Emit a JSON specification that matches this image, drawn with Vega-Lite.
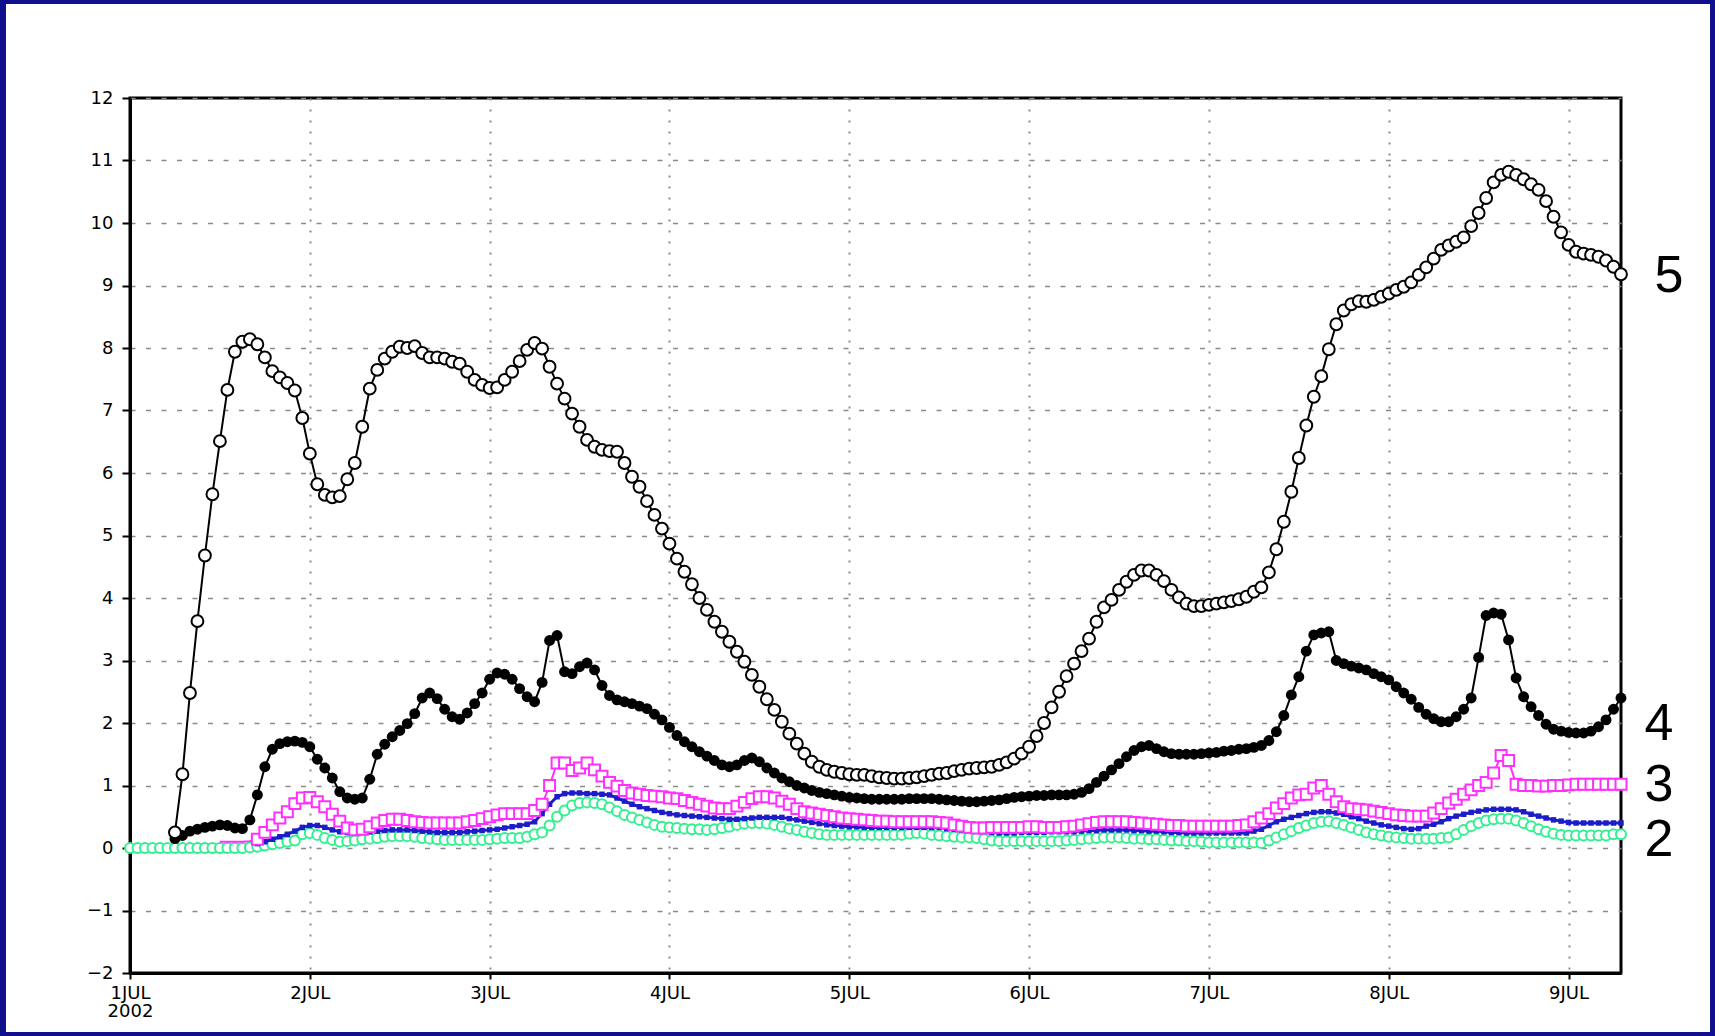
{
"$schema":"https://vega.github.io/schema/vega-lite/v6.json",
"width":1491,"height":875,
"autosize":{"type":"none"},
"padding":{"left":130,"top":98,"right":94,"bottom":63},
"background":"white",
"config":{"view":{"stroke":"black","strokeWidth":3}},
"datasets":{
"s5":[{"h":6,"v":0.25},{"h":7,"v":1.18},{"h":8,"v":2.48},{"h":9,"v":3.63},{"h":10,"v":4.68},{"h":11,"v":5.66},{"h":12,"v":6.51},{"h":13,"v":7.33},{"h":14,"v":7.94},{"h":15,"v":8.10},{"h":16,"v":8.14},{"h":17,"v":8.06},{"h":18,"v":7.85},{"h":19,"v":7.63},{"h":20,"v":7.53},{"h":21,"v":7.44},{"h":22,"v":7.32},{"h":23,"v":6.88},{"h":24,"v":6.31},{"h":25,"v":5.82},{"h":26,"v":5.65},{"h":27,"v":5.61},{"h":28,"v":5.63},{"h":29,"v":5.90},{"h":30,"v":6.16},{"h":31,"v":6.74},{"h":32,"v":7.35},{"h":33,"v":7.65},{"h":34,"v":7.83},{"h":35,"v":7.94},{"h":36,"v":8.02},{"h":37,"v":8.00},{"h":38,"v":8.03},{"h":39,"v":7.92},{"h":40,"v":7.85},{"h":41,"v":7.85},{"h":42,"v":7.83},{"h":43,"v":7.78},{"h":44,"v":7.75},{"h":45,"v":7.62},{"h":46,"v":7.49},{"h":47,"v":7.41},{"h":48,"v":7.36},{"h":49,"v":7.37},{"h":50,"v":7.49},{"h":51,"v":7.62},{"h":52,"v":7.79},{"h":53,"v":7.97},{"h":54,"v":8.08},{"h":55,"v":7.99},{"h":56,"v":7.70},{"h":57,"v":7.43},{"h":58,"v":7.19},{"h":59,"v":6.95},{"h":60,"v":6.74},{"h":61,"v":6.53},{"h":62,"v":6.42},{"h":63,"v":6.37},{"h":64,"v":6.35},{"h":65,"v":6.34},{"h":66,"v":6.16},{"h":67,"v":5.94},{"h":68,"v":5.78},{"h":69,"v":5.55},{"h":70,"v":5.33},{"h":71,"v":5.11},{"h":72,"v":4.87},{"h":73,"v":4.63},{"h":74,"v":4.42},{"h":75,"v":4.22},{"h":76,"v":4.00},{"h":77,"v":3.81},{"h":78,"v":3.62},{"h":79,"v":3.46},{"h":80,"v":3.30},{"h":81,"v":3.14},{"h":82,"v":2.98},{"h":83,"v":2.77},{"h":84,"v":2.58},{"h":85,"v":2.38},{"h":86,"v":2.21},{"h":87,"v":2.02},{"h":88,"v":1.83},{"h":89,"v":1.67},{"h":90,"v":1.51},{"h":91,"v":1.38},{"h":92,"v":1.30},{"h":93,"v":1.25},{"h":94,"v":1.22},{"h":95,"v":1.20},{"h":96,"v":1.18},{"h":97,"v":1.17},{"h":98,"v":1.17},{"h":99,"v":1.15},{"h":100,"v":1.13},{"h":101,"v":1.12},{"h":102,"v":1.11},{"h":103,"v":1.11},{"h":104,"v":1.12},{"h":105,"v":1.13},{"h":106,"v":1.15},{"h":107,"v":1.17},{"h":108,"v":1.19},{"h":109,"v":1.20},{"h":110,"v":1.23},{"h":111,"v":1.25},{"h":112,"v":1.27},{"h":113,"v":1.28},{"h":114,"v":1.29},{"h":115,"v":1.30},{"h":116,"v":1.33},{"h":117,"v":1.37},{"h":118,"v":1.43},{"h":119,"v":1.51},{"h":120,"v":1.62},{"h":121,"v":1.79},{"h":122,"v":2.00},{"h":123,"v":2.25},{"h":124,"v":2.50},{"h":125,"v":2.75},{"h":126,"v":2.95},{"h":127,"v":3.15},{"h":128,"v":3.35},{"h":129,"v":3.62},{"h":130,"v":3.85},{"h":131,"v":3.97},{"h":132,"v":4.13},{"h":133,"v":4.26},{"h":134,"v":4.37},{"h":135,"v":4.44},{"h":136,"v":4.44},{"h":137,"v":4.37},{"h":138,"v":4.27},{"h":139,"v":4.13},{"h":140,"v":4.01},{"h":141,"v":3.91},{"h":142,"v":3.87},{"h":143,"v":3.87},{"h":144,"v":3.89},{"h":145,"v":3.91},{"h":146,"v":3.93},{"h":147,"v":3.95},{"h":148,"v":3.98},{"h":149,"v":4.02},{"h":150,"v":4.10},{"h":151,"v":4.17},{"h":152,"v":4.41},{"h":153,"v":4.78},{"h":154,"v":5.22},{"h":155,"v":5.70},{"h":156,"v":6.24},{"h":157,"v":6.76},{"h":158,"v":7.22},{"h":159,"v":7.55},{"h":160,"v":7.98},{"h":161,"v":8.38},{"h":162,"v":8.60},{"h":163,"v":8.70},{"h":164,"v":8.75},{"h":165,"v":8.74},{"h":166,"v":8.77},{"h":167,"v":8.82},{"h":168,"v":8.87},{"h":169,"v":8.93},{"h":170,"v":8.98},{"h":171,"v":9.05},{"h":172,"v":9.17},{"h":173,"v":9.29},{"h":174,"v":9.43},{"h":175,"v":9.57},{"h":176,"v":9.64},{"h":177,"v":9.70},{"h":178,"v":9.77},{"h":179,"v":9.95},{"h":180,"v":10.16},{"h":181,"v":10.40},{"h":182,"v":10.65},{"h":183,"v":10.77},{"h":184,"v":10.82},{"h":185,"v":10.77},{"h":186,"v":10.70},{"h":187,"v":10.62},{"h":188,"v":10.53},{"h":189,"v":10.35},{"h":190,"v":10.10},{"h":191,"v":9.85},{"h":192,"v":9.65},{"h":193,"v":9.54},{"h":194,"v":9.51},{"h":195,"v":9.49},{"h":196,"v":9.46},{"h":197,"v":9.40},{"h":198,"v":9.30},{"h":199,"v":9.18}],
"s4":[{"h":6,"v":0.15},{"h":7,"v":0.20},{"h":8,"v":0.27},{"h":9,"v":0.30},{"h":10,"v":0.33},{"h":11,"v":0.35},{"h":12,"v":0.37},{"h":13,"v":0.36},{"h":14,"v":0.32},{"h":15,"v":0.31},{"h":16,"v":0.45},{"h":17,"v":0.85},{"h":18,"v":1.30},{"h":19,"v":1.58},{"h":20,"v":1.67},{"h":21,"v":1.70},{"h":22,"v":1.71},{"h":23,"v":1.69},{"h":24,"v":1.62},{"h":25,"v":1.42},{"h":26,"v":1.28},{"h":27,"v":1.12},{"h":28,"v":0.90},{"h":29,"v":0.80},{"h":30,"v":0.78},{"h":31,"v":0.80},{"h":32,"v":1.10},{"h":33,"v":1.50},{"h":34,"v":1.66},{"h":35,"v":1.78},{"h":36,"v":1.88},{"h":37,"v":1.99},{"h":38,"v":2.15},{"h":39,"v":2.40},{"h":40,"v":2.48},{"h":41,"v":2.39},{"h":42,"v":2.22},{"h":43,"v":2.10},{"h":44,"v":2.06},{"h":45,"v":2.16},{"h":46,"v":2.31},{"h":47,"v":2.48},{"h":48,"v":2.70},{"h":49,"v":2.80},{"h":50,"v":2.78},{"h":51,"v":2.70},{"h":52,"v":2.55},{"h":53,"v":2.42},{"h":54,"v":2.34},{"h":55,"v":2.65},{"h":56,"v":3.32},{"h":57,"v":3.40},{"h":58,"v":2.82},{"h":59,"v":2.79},{"h":60,"v":2.90},{"h":61,"v":2.96},{"h":62,"v":2.85},{"h":63,"v":2.60},{"h":64,"v":2.44},{"h":65,"v":2.37},{"h":66,"v":2.34},{"h":67,"v":2.31},{"h":68,"v":2.27},{"h":69,"v":2.23},{"h":70,"v":2.14},{"h":71,"v":2.05},{"h":72,"v":1.93},{"h":73,"v":1.80},{"h":74,"v":1.70},{"h":75,"v":1.62},{"h":76,"v":1.54},{"h":77,"v":1.47},{"h":78,"v":1.40},{"h":79,"v":1.33},{"h":80,"v":1.30},{"h":81,"v":1.33},{"h":82,"v":1.40},{"h":83,"v":1.44},{"h":84,"v":1.38},{"h":85,"v":1.28},{"h":86,"v":1.20},{"h":87,"v":1.12},{"h":88,"v":1.06},{"h":89,"v":1.00},{"h":90,"v":0.96},{"h":91,"v":0.92},{"h":92,"v":0.89},{"h":93,"v":0.87},{"h":94,"v":0.85},{"h":95,"v":0.83},{"h":96,"v":0.81},{"h":97,"v":0.80},{"h":98,"v":0.79},{"h":99,"v":0.78},{"h":100,"v":0.78},{"h":101,"v":0.78},{"h":102,"v":0.78},{"h":103,"v":0.78},{"h":104,"v":0.79},{"h":105,"v":0.79},{"h":106,"v":0.79},{"h":107,"v":0.79},{"h":108,"v":0.78},{"h":109,"v":0.77},{"h":110,"v":0.76},{"h":111,"v":0.75},{"h":112,"v":0.74},{"h":113,"v":0.74},{"h":114,"v":0.75},{"h":115,"v":0.76},{"h":116,"v":0.77},{"h":117,"v":0.79},{"h":118,"v":0.81},{"h":119,"v":0.82},{"h":120,"v":0.83},{"h":121,"v":0.84},{"h":122,"v":0.84},{"h":123,"v":0.85},{"h":124,"v":0.85},{"h":125,"v":0.85},{"h":126,"v":0.86},{"h":127,"v":0.89},{"h":128,"v":0.95},{"h":129,"v":1.05},{"h":130,"v":1.15},{"h":131,"v":1.25},{"h":132,"v":1.35},{"h":133,"v":1.46},{"h":134,"v":1.56},{"h":135,"v":1.62},{"h":136,"v":1.64},{"h":137,"v":1.59},{"h":138,"v":1.54},{"h":139,"v":1.51},{"h":140,"v":1.50},{"h":141,"v":1.50},{"h":142,"v":1.50},{"h":143,"v":1.51},{"h":144,"v":1.52},{"h":145,"v":1.53},{"h":146,"v":1.55},{"h":147,"v":1.56},{"h":148,"v":1.58},{"h":149,"v":1.59},{"h":150,"v":1.61},{"h":151,"v":1.64},{"h":152,"v":1.72},{"h":153,"v":1.86},{"h":154,"v":2.12},{"h":155,"v":2.45},{"h":156,"v":2.74},{"h":157,"v":3.15},{"h":158,"v":3.41},{"h":159,"v":3.44},{"h":160,"v":3.46},{"h":161,"v":3.00},{"h":162,"v":2.95},{"h":163,"v":2.91},{"h":164,"v":2.88},{"h":165,"v":2.85},{"h":166,"v":2.79},{"h":167,"v":2.74},{"h":168,"v":2.69},{"h":169,"v":2.58},{"h":170,"v":2.48},{"h":171,"v":2.38},{"h":172,"v":2.25},{"h":173,"v":2.14},{"h":174,"v":2.07},{"h":175,"v":2.02},{"h":176,"v":2.02},{"h":177,"v":2.10},{"h":178,"v":2.22},{"h":179,"v":2.40},{"h":180,"v":3.05},{"h":181,"v":3.72},{"h":182,"v":3.76},{"h":183,"v":3.74},{"h":184,"v":3.33},{"h":185,"v":2.72},{"h":186,"v":2.42},{"h":187,"v":2.26},{"h":188,"v":2.12},{"h":189,"v":1.98},{"h":190,"v":1.90},{"h":191,"v":1.87},{"h":192,"v":1.85},{"h":193,"v":1.84},{"h":194,"v":1.84},{"h":195,"v":1.87},{"h":196,"v":1.94},{"h":197,"v":2.05},{"h":198,"v":2.22},{"h":199,"v":2.40}],
"s3":[{"h":12,"v":0.10},{"h":13,"v":0.10},{"h":14,"v":0.10},{"h":15,"v":0.10},{"h":16,"v":0.11},{"h":17,"v":0.14},{"h":18,"v":0.25},{"h":19,"v":0.37},{"h":20,"v":0.48},{"h":21,"v":0.58},{"h":22,"v":0.71},{"h":23,"v":0.80},{"h":24,"v":0.81},{"h":25,"v":0.74},{"h":26,"v":0.66},{"h":27,"v":0.54},{"h":28,"v":0.43},{"h":29,"v":0.32},{"h":30,"v":0.29},{"h":31,"v":0.30},{"h":32,"v":0.34},{"h":33,"v":0.40},{"h":34,"v":0.44},{"h":35,"v":0.46},{"h":36,"v":0.46},{"h":37,"v":0.44},{"h":38,"v":0.42},{"h":39,"v":0.41},{"h":40,"v":0.40},{"h":41,"v":0.40},{"h":42,"v":0.40},{"h":43,"v":0.40},{"h":44,"v":0.40},{"h":45,"v":0.42},{"h":46,"v":0.44},{"h":47,"v":0.47},{"h":48,"v":0.50},{"h":49,"v":0.53},{"h":50,"v":0.55},{"h":51,"v":0.55},{"h":52,"v":0.55},{"h":53,"v":0.55},{"h":54,"v":0.60},{"h":55,"v":0.70},{"h":56,"v":1.00},{"h":57,"v":1.36},{"h":58,"v":1.36},{"h":59,"v":1.24},{"h":60,"v":1.28},{"h":61,"v":1.36},{"h":62,"v":1.25},{"h":63,"v":1.15},{"h":64,"v":1.05},{"h":65,"v":0.99},{"h":66,"v":0.92},{"h":67,"v":0.88},{"h":68,"v":0.86},{"h":69,"v":0.84},{"h":70,"v":0.83},{"h":71,"v":0.82},{"h":72,"v":0.80},{"h":73,"v":0.79},{"h":74,"v":0.76},{"h":75,"v":0.73},{"h":76,"v":0.70},{"h":77,"v":0.67},{"h":78,"v":0.64},{"h":79,"v":0.63},{"h":80,"v":0.63},{"h":81,"v":0.67},{"h":82,"v":0.73},{"h":83,"v":0.79},{"h":84,"v":0.82},{"h":85,"v":0.82},{"h":86,"v":0.80},{"h":87,"v":0.75},{"h":88,"v":0.70},{"h":89,"v":0.63},{"h":90,"v":0.58},{"h":91,"v":0.56},{"h":92,"v":0.54},{"h":93,"v":0.52},{"h":94,"v":0.50},{"h":95,"v":0.48},{"h":96,"v":0.47},{"h":97,"v":0.46},{"h":98,"v":0.45},{"h":99,"v":0.44},{"h":100,"v":0.43},{"h":101,"v":0.43},{"h":102,"v":0.42},{"h":103,"v":0.42},{"h":104,"v":0.42},{"h":105,"v":0.42},{"h":106,"v":0.42},{"h":107,"v":0.42},{"h":108,"v":0.41},{"h":109,"v":0.40},{"h":110,"v":0.37},{"h":111,"v":0.35},{"h":112,"v":0.33},{"h":113,"v":0.32},{"h":114,"v":0.32},{"h":115,"v":0.33},{"h":116,"v":0.33},{"h":117,"v":0.33},{"h":118,"v":0.33},{"h":119,"v":0.33},{"h":120,"v":0.34},{"h":121,"v":0.34},{"h":122,"v":0.33},{"h":123,"v":0.33},{"h":124,"v":0.33},{"h":125,"v":0.34},{"h":126,"v":0.35},{"h":127,"v":0.37},{"h":128,"v":0.39},{"h":129,"v":0.41},{"h":130,"v":0.42},{"h":131,"v":0.42},{"h":132,"v":0.42},{"h":133,"v":0.42},{"h":134,"v":0.41},{"h":135,"v":0.40},{"h":136,"v":0.39},{"h":137,"v":0.38},{"h":138,"v":0.37},{"h":139,"v":0.36},{"h":140,"v":0.36},{"h":141,"v":0.35},{"h":142,"v":0.35},{"h":143,"v":0.35},{"h":144,"v":0.35},{"h":145,"v":0.35},{"h":146,"v":0.35},{"h":147,"v":0.35},{"h":148,"v":0.36},{"h":149,"v":0.37},{"h":150,"v":0.42},{"h":151,"v":0.48},{"h":152,"v":0.55},{"h":153,"v":0.64},{"h":154,"v":0.71},{"h":155,"v":0.80},{"h":156,"v":0.85},{"h":157,"v":0.86},{"h":158,"v":0.96},{"h":159,"v":1.00},{"h":160,"v":0.86},{"h":161,"v":0.74},{"h":162,"v":0.66},{"h":163,"v":0.63},{"h":164,"v":0.62},{"h":165,"v":0.61},{"h":166,"v":0.59},{"h":167,"v":0.57},{"h":168,"v":0.55},{"h":169,"v":0.53},{"h":170,"v":0.52},{"h":171,"v":0.51},{"h":172,"v":0.51},{"h":173,"v":0.51},{"h":174,"v":0.56},{"h":175,"v":0.63},{"h":176,"v":0.72},{"h":177,"v":0.78},{"h":178,"v":0.86},{"h":179,"v":0.93},{"h":180,"v":1.00},{"h":181,"v":1.05},{"h":182,"v":1.20},{"h":183,"v":1.48},{"h":184,"v":1.40},{"h":185,"v":1.02},{"h":186,"v":1.00},{"h":187,"v":1.00},{"h":188,"v":0.99},{"h":189,"v":0.99},{"h":190,"v":1.00},{"h":191,"v":1.00},{"h":192,"v":1.01},{"h":193,"v":1.02},{"h":194,"v":1.02},{"h":195,"v":1.02},{"h":196,"v":1.02},{"h":197,"v":1.02},{"h":198,"v":1.02},{"h":199,"v":1.02}],
"s2":[{"h":17,"v":0.07},{"h":18,"v":0.10},{"h":19,"v":0.14},{"h":20,"v":0.18},{"h":21,"v":0.22},{"h":22,"v":0.27},{"h":23,"v":0.33},{"h":24,"v":0.36},{"h":25,"v":0.36},{"h":26,"v":0.33},{"h":27,"v":0.29},{"h":28,"v":0.26},{"h":29,"v":0.25},{"h":30,"v":0.25},{"h":31,"v":0.25},{"h":32,"v":0.26},{"h":33,"v":0.27},{"h":34,"v":0.28},{"h":35,"v":0.29},{"h":36,"v":0.29},{"h":37,"v":0.29},{"h":38,"v":0.28},{"h":39,"v":0.27},{"h":40,"v":0.26},{"h":41,"v":0.25},{"h":42,"v":0.25},{"h":43,"v":0.25},{"h":44,"v":0.25},{"h":45,"v":0.26},{"h":46,"v":0.27},{"h":47,"v":0.28},{"h":48,"v":0.29},{"h":49,"v":0.30},{"h":50,"v":0.32},{"h":51,"v":0.34},{"h":52,"v":0.36},{"h":53,"v":0.38},{"h":54,"v":0.42},{"h":55,"v":0.55},{"h":56,"v":0.70},{"h":57,"v":0.82},{"h":58,"v":0.87},{"h":59,"v":0.88},{"h":60,"v":0.88},{"h":61,"v":0.87},{"h":62,"v":0.87},{"h":63,"v":0.86},{"h":64,"v":0.85},{"h":65,"v":0.80},{"h":66,"v":0.75},{"h":67,"v":0.70},{"h":68,"v":0.66},{"h":69,"v":0.63},{"h":70,"v":0.60},{"h":71,"v":0.57},{"h":72,"v":0.55},{"h":73,"v":0.53},{"h":74,"v":0.52},{"h":75,"v":0.51},{"h":76,"v":0.50},{"h":77,"v":0.49},{"h":78,"v":0.48},{"h":79,"v":0.47},{"h":80,"v":0.46},{"h":81,"v":0.46},{"h":82,"v":0.47},{"h":83,"v":0.48},{"h":84,"v":0.49},{"h":85,"v":0.49},{"h":86,"v":0.49},{"h":87,"v":0.49},{"h":88,"v":0.47},{"h":89,"v":0.45},{"h":90,"v":0.43},{"h":91,"v":0.41},{"h":92,"v":0.39},{"h":93,"v":0.37},{"h":94,"v":0.36},{"h":95,"v":0.35},{"h":96,"v":0.34},{"h":97,"v":0.34},{"h":98,"v":0.33},{"h":99,"v":0.33},{"h":100,"v":0.33},{"h":101,"v":0.33},{"h":102,"v":0.33},{"h":103,"v":0.33},{"h":104,"v":0.33},{"h":105,"v":0.33},{"h":106,"v":0.33},{"h":107,"v":0.33},{"h":108,"v":0.33},{"h":109,"v":0.31},{"h":110,"v":0.30},{"h":111,"v":0.29},{"h":112,"v":0.28},{"h":113,"v":0.28},{"h":114,"v":0.27},{"h":115,"v":0.25},{"h":116,"v":0.24},{"h":117,"v":0.24},{"h":118,"v":0.24},{"h":119,"v":0.25},{"h":120,"v":0.25},{"h":121,"v":0.25},{"h":122,"v":0.25},{"h":123,"v":0.26},{"h":124,"v":0.26},{"h":125,"v":0.26},{"h":126,"v":0.26},{"h":127,"v":0.27},{"h":128,"v":0.28},{"h":129,"v":0.28},{"h":130,"v":0.29},{"h":131,"v":0.29},{"h":132,"v":0.29},{"h":133,"v":0.29},{"h":134,"v":0.28},{"h":135,"v":0.28},{"h":136,"v":0.27},{"h":137,"v":0.27},{"h":138,"v":0.26},{"h":139,"v":0.25},{"h":140,"v":0.25},{"h":141,"v":0.24},{"h":142,"v":0.24},{"h":143,"v":0.24},{"h":144,"v":0.24},{"h":145,"v":0.24},{"h":146,"v":0.24},{"h":147,"v":0.24},{"h":148,"v":0.24},{"h":149,"v":0.24},{"h":150,"v":0.27},{"h":151,"v":0.30},{"h":152,"v":0.36},{"h":153,"v":0.42},{"h":154,"v":0.46},{"h":155,"v":0.49},{"h":156,"v":0.52},{"h":157,"v":0.55},{"h":158,"v":0.57},{"h":159,"v":0.58},{"h":160,"v":0.58},{"h":161,"v":0.56},{"h":162,"v":0.54},{"h":163,"v":0.50},{"h":164,"v":0.47},{"h":165,"v":0.43},{"h":166,"v":0.40},{"h":167,"v":0.37},{"h":168,"v":0.35},{"h":169,"v":0.33},{"h":170,"v":0.31},{"h":171,"v":0.30},{"h":172,"v":0.31},{"h":173,"v":0.35},{"h":174,"v":0.38},{"h":175,"v":0.42},{"h":176,"v":0.47},{"h":177,"v":0.51},{"h":178,"v":0.54},{"h":179,"v":0.57},{"h":180,"v":0.59},{"h":181,"v":0.61},{"h":182,"v":0.62},{"h":183,"v":0.62},{"h":184,"v":0.62},{"h":185,"v":0.61},{"h":186,"v":0.58},{"h":187,"v":0.54},{"h":188,"v":0.51},{"h":189,"v":0.48},{"h":190,"v":0.45},{"h":191,"v":0.43},{"h":192,"v":0.41},{"h":193,"v":0.40},{"h":194,"v":0.40},{"h":195,"v":0.40},{"h":196,"v":0.40},{"h":197,"v":0.40},{"h":198,"v":0.40},{"h":199,"v":0.40}],
"s1":[{"h":0,"v":0.0},{"h":1,"v":0.0},{"h":2,"v":0.0},{"h":3,"v":0.0},{"h":4,"v":0.0},{"h":5,"v":0.0},{"h":6,"v":0.0},{"h":7,"v":0.0},{"h":8,"v":0.0},{"h":9,"v":0.0},{"h":10,"v":0.0},{"h":11,"v":0.0},{"h":12,"v":0.0},{"h":13,"v":0.0},{"h":14,"v":0.0},{"h":15,"v":0.0},{"h":16,"v":0.01},{"h":17,"v":0.02},{"h":18,"v":0.04},{"h":19,"v":0.06},{"h":20,"v":0.08},{"h":21,"v":0.10},{"h":22,"v":0.12},{"h":23,"v":0.22},{"h":24,"v":0.24},{"h":25,"v":0.21},{"h":26,"v":0.16},{"h":27,"v":0.13},{"h":28,"v":0.10},{"h":29,"v":0.11},{"h":30,"v":0.12},{"h":31,"v":0.14},{"h":32,"v":0.15},{"h":33,"v":0.16},{"h":34,"v":0.18},{"h":35,"v":0.19},{"h":36,"v":0.19},{"h":37,"v":0.19},{"h":38,"v":0.18},{"h":39,"v":0.16},{"h":40,"v":0.15},{"h":41,"v":0.14},{"h":42,"v":0.13},{"h":43,"v":0.13},{"h":44,"v":0.13},{"h":45,"v":0.13},{"h":46,"v":0.13},{"h":47,"v":0.13},{"h":48,"v":0.14},{"h":49,"v":0.15},{"h":50,"v":0.16},{"h":51,"v":0.16},{"h":52,"v":0.16},{"h":53,"v":0.18},{"h":54,"v":0.22},{"h":55,"v":0.25},{"h":56,"v":0.36},{"h":57,"v":0.50},{"h":58,"v":0.60},{"h":59,"v":0.68},{"h":60,"v":0.72},{"h":61,"v":0.73},{"h":62,"v":0.72},{"h":63,"v":0.70},{"h":64,"v":0.65},{"h":65,"v":0.59},{"h":66,"v":0.53},{"h":67,"v":0.49},{"h":68,"v":0.45},{"h":69,"v":0.41},{"h":70,"v":0.37},{"h":71,"v":0.34},{"h":72,"v":0.33},{"h":73,"v":0.32},{"h":74,"v":0.31},{"h":75,"v":0.30},{"h":76,"v":0.30},{"h":77,"v":0.29},{"h":78,"v":0.30},{"h":79,"v":0.32},{"h":80,"v":0.34},{"h":81,"v":0.37},{"h":82,"v":0.39},{"h":83,"v":0.40},{"h":84,"v":0.40},{"h":85,"v":0.39},{"h":86,"v":0.37},{"h":87,"v":0.34},{"h":88,"v":0.31},{"h":89,"v":0.29},{"h":90,"v":0.26},{"h":91,"v":0.24},{"h":92,"v":0.22},{"h":93,"v":0.21},{"h":94,"v":0.21},{"h":95,"v":0.21},{"h":96,"v":0.21},{"h":97,"v":0.21},{"h":98,"v":0.21},{"h":99,"v":0.21},{"h":100,"v":0.21},{"h":101,"v":0.21},{"h":102,"v":0.21},{"h":103,"v":0.21},{"h":104,"v":0.23},{"h":105,"v":0.24},{"h":106,"v":0.23},{"h":107,"v":0.21},{"h":108,"v":0.20},{"h":109,"v":0.19},{"h":110,"v":0.18},{"h":111,"v":0.17},{"h":112,"v":0.17},{"h":113,"v":0.16},{"h":114,"v":0.14},{"h":115,"v":0.12},{"h":116,"v":0.11},{"h":117,"v":0.11},{"h":118,"v":0.11},{"h":119,"v":0.11},{"h":120,"v":0.11},{"h":121,"v":0.11},{"h":122,"v":0.11},{"h":123,"v":0.11},{"h":124,"v":0.11},{"h":125,"v":0.12},{"h":126,"v":0.13},{"h":127,"v":0.14},{"h":128,"v":0.15},{"h":129,"v":0.16},{"h":130,"v":0.17},{"h":131,"v":0.17},{"h":132,"v":0.17},{"h":133,"v":0.16},{"h":134,"v":0.15},{"h":135,"v":0.15},{"h":136,"v":0.14},{"h":137,"v":0.14},{"h":138,"v":0.13},{"h":139,"v":0.12},{"h":140,"v":0.12},{"h":141,"v":0.11},{"h":142,"v":0.11},{"h":143,"v":0.10},{"h":144,"v":0.09},{"h":145,"v":0.09},{"h":146,"v":0.09},{"h":147,"v":0.09},{"h":148,"v":0.09},{"h":149,"v":0.09},{"h":150,"v":0.09},{"h":151,"v":0.08},{"h":152,"v":0.12},{"h":153,"v":0.17},{"h":154,"v":0.22},{"h":155,"v":0.27},{"h":156,"v":0.32},{"h":157,"v":0.36},{"h":158,"v":0.40},{"h":159,"v":0.42},{"h":160,"v":0.43},{"h":161,"v":0.40},{"h":162,"v":0.37},{"h":163,"v":0.33},{"h":164,"v":0.29},{"h":165,"v":0.25},{"h":166,"v":0.22},{"h":167,"v":0.20},{"h":168,"v":0.18},{"h":169,"v":0.17},{"h":170,"v":0.16},{"h":171,"v":0.15},{"h":172,"v":0.15},{"h":173,"v":0.15},{"h":174,"v":0.15},{"h":175,"v":0.16},{"h":176,"v":0.17},{"h":177,"v":0.22},{"h":178,"v":0.29},{"h":179,"v":0.35},{"h":180,"v":0.40},{"h":181,"v":0.44},{"h":182,"v":0.46},{"h":183,"v":0.47},{"h":184,"v":0.47},{"h":185,"v":0.44},{"h":186,"v":0.40},{"h":187,"v":0.35},{"h":188,"v":0.30},{"h":189,"v":0.26},{"h":190,"v":0.23},{"h":191,"v":0.21},{"h":192,"v":0.20},{"h":193,"v":0.20},{"h":194,"v":0.20},{"h":195,"v":0.20},{"h":196,"v":0.20},{"h":197,"v":0.20},{"h":198,"v":0.22},{"h":199,"v":0.22}],
"lab5":[{"label":"5","h":199,"v":9.15}],
"lab":[{"label":"4","h":199,"v":1.98},{"label":"3","h":199,"v":1.01},{"label":"2","h":199,"v":0.13}]
},
"layer":[
{"data":{"name":"s1"},"mark":{"type":"line","color":"#30f090","strokeWidth":2,"point":{"shape":"circle","size":100,"filled":true,"fill":"white","stroke":"#30f090","strokeWidth":2}},
 "encoding":{
"x":{"field":"h","type":"quantitative","scale":{"domain":[0,199],"nice":false,"zero":false},
"axis":{"values":[0,24,48,72,96,120,144,168,192],"title":null,
"labelExpr":"datum.value === 0 ? ['1JUL','2002'] : (datum.value/24+1) + 'JUL'",
"labelFont":"DejaVu Sans","labelFontSize":18,"labelColor":"black","labelPadding":5,"labelLineHeight":18,"labelFlush":false,"labelOverlap":false,"labelBaseline":"top",
"tickSize":6,"tickColor":"black","tickWidth":2,"domainColor":"black","domainWidth":3,
"grid":true,"gridColor":"#8a8a8a","gridDash":[2,9],"gridWidth":2}},
"y":{"field":"v","type":"quantitative","scale":{"domain":[-2,12],"nice":false,"zero":false},
"axis":{"values":[-2,-1,0,1,2,3,4,5,6,7,8,9,10,11,12],"format":"d","title":null,
"labelFont":"DejaVu Sans","labelFontSize":18,"labelColor":"black","labelPadding":9,"labelFlush":false,"labelOverlap":false,
"tickSize":8,"tickColor":"black","tickWidth":2,"domainColor":"black","domainWidth":3,
"grid":true,"gridColor":"#8a8a8a","gridDash":[5,10.5],"gridWidth":1.6}}}},
{"data":{"name":"s2"},"mark":{"type":"line","color":"#1c1cc8","strokeWidth":3,"point":{"shape":"square","size":30,"filled":true,"color":"#1c1cc8"}},
 "encoding":{"x":{"field":"h","type":"quantitative"},"y":{"field":"v","type":"quantitative"}}},
{"data":{"name":"s3"},"mark":{"type":"line","color":"#ff30ff","strokeWidth":2},
 "encoding":{"x":{"field":"h","type":"quantitative"},"y":{"field":"v","type":"quantitative"}}},
{"data":{"name":"s3"},"transform":[{"filter":"datum.h >= 17"}],"mark":{"type":"point","shape":"square","size":120,"filled":true,"fill":"white","stroke":"#ff30ff","strokeWidth":2,"opacity":1},
 "encoding":{"x":{"field":"h","type":"quantitative"},"y":{"field":"v","type":"quantitative"}}},
{"data":{"name":"s4"},"mark":{"type":"line","color":"black","strokeWidth":2,"point":{"shape":"circle","size":120,"filled":true,"color":"black"}},
 "encoding":{"x":{"field":"h","type":"quantitative"},"y":{"field":"v","type":"quantitative"}}},
{"data":{"name":"s5"},"mark":{"type":"line","color":"black","strokeWidth":2,"point":{"shape":"circle","size":140,"filled":true,"fill":"white","stroke":"black","strokeWidth":2}},
 "encoding":{"x":{"field":"h","type":"quantitative"},"y":{"field":"v","type":"quantitative"}}},
{"data":{"name":"lab5"},"mark":{"type":"text","font":"Liberation Sans","fontSize":52,"color":"black","align":"center","baseline":"middle","dx":48},
 "encoding":{"x":{"field":"h","type":"quantitative"},"y":{"field":"v","type":"quantitative"},"text":{"field":"label"}}},
{"data":{"name":"lab"},"mark":{"type":"text","font":"Liberation Sans","fontSize":52,"color":"black","align":"center","baseline":"middle","dx":38},
 "encoding":{"x":{"field":"h","type":"quantitative"},"y":{"field":"v","type":"quantitative"},"text":{"field":"label"}}},
{"data":{"values":[{}]},"mark":{"type":"rect","filled":false,"stroke":"#10108c","strokeWidth":10},
 "encoding":{"x":{"datum":-17.22},"x2":{"datum":211.55},"y":{"datum":13.584},"y2":{"datum":-3.024}}}
]
}
